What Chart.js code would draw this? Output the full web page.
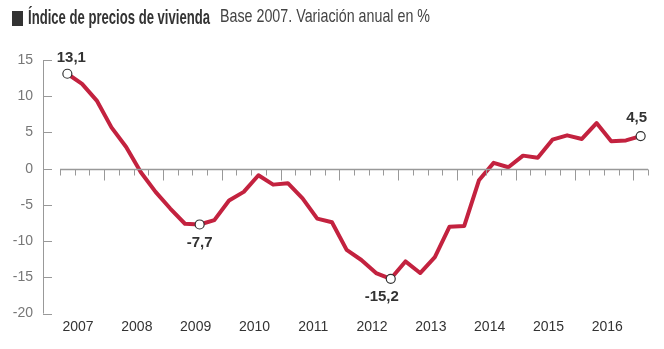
<!DOCTYPE html>
<html>
<head>
<meta charset="utf-8">
<script src="https://cdn.jsdelivr.net/npm/chart.js@4.4.1/dist/chart.umd.min.js"></script>
<style>
  body { margin: 0; background: #fff; }
  #wrap { position: relative; width: 664px; height: 349px; }
  #title { position: absolute; left: 0; top: 0; width: 664px; height: 40px; color: #333; white-space: nowrap; }
  #title .box { position: absolute; left: 12px; top: 11px; width: 11px; height: 15px; background: #333; }
  #t1, #t2 { position: absolute; top: 5px; transform-origin: left top; display: inline-block; }
  #t1 { left: 28px; font: bold 21px "Liberation Sans Narrow", "Liberation Sans", sans-serif; }
  #t2 { left: 220px; font: 19px "Liberation Sans Narrow", "Liberation Sans", sans-serif; color: #444; }
  canvas { position: absolute; left: 0; top: 0; }
</style>
</head>
<body>
<div id="wrap">
  <canvas id="ipvChart" width="664" height="349"></canvas>
  <div id="title"><span class="box"></span><span id="t1">Índice de precios de vivienda</span><span id="t2">Base 2007. Variación anual en %</span></div>
</div>
<script>
// --- Data ---
const yearTicks = ["2007", "2008", "2009", "2010", "2011", "2012", "2013", "2014", "2015", "2016"];

// quarters from 2007T2 to 2017T1
const quarters = [];
for (let y = 2007; y <= 2017; y++) {
  for (let q = 1; q <= 4; q++) quarters.push(y + "T" + q);
}
const categories = quarters.slice(1, 41);

const values = [
  13.1, 11.7, 9.4, 5.7, 3.0, -0.5, -3.2, -5.5, -7.6, -7.7,
  -7.1, -4.4, -3.2, -0.9, -2.2, -2.0, -4.1, -6.9, -7.4, -11.2,
  -12.6, -14.4, -15.2, -12.8, -14.4, -12.2, -8.0, -7.9, -1.6, 0.8,
  0.2, 1.8, 1.5, 4.0, 4.6, 4.1, 6.3, 3.8, 3.9, 4.5
];

// points that carry a value label
const labeled = [0, 9, 22, 39];

// --- Title fitting (condensed font) ---
function fitText(id, target) {
  const el = document.getElementById(id);
  const w = el.getBoundingClientRect().width;
  if (w > 0) el.style.transform = "scaleX(" + (target / w) + ")";
}
fitText("t1", 182);
fitText("t2", 210);

// --- Axis decorations and value labels ---
const axisPlugin = {
  id: "axisDeco",
  afterDatasetsDraw(chart) {
    const { ctx, chartArea, scales } = chart;
    const x = scales.x, y = scales.y;
    ctx.save();
    ctx.strokeStyle = "#999";
    ctx.lineWidth = 1;

    // vertical axis with inward ticks
    const axX = chartArea.left - 17;
    ctx.beginPath();
    ctx.moveTo(axX + 0.5, y.getPixelForValue(15));
    ctx.lineTo(axX + 0.5, y.getPixelForValue(-20));
    y.ticks.forEach((t) => {
      const py = Math.round(y.getPixelForValue(t.value)) + 0.5;
      ctx.moveTo(axX, py);
      ctx.lineTo(axX + 9, py);
    });
    ctx.stroke();

    // zero line with quarter / year ticks
    const y0 = Math.round(y.getPixelForValue(0)) + 0.5;
    const slot = x.getPixelForValue(1) - x.getPixelForValue(0);
    ctx.beginPath();
    ctx.lineWidth = 1.5;
    ctx.moveTo(chartArea.left, y0);
    ctx.lineTo(chartArea.right, y0);
    ctx.stroke();
    ctx.beginPath();
    ctx.lineWidth = 1;
    for (let k = 0; k <= categories.length; k++) {
      const px = Math.round(x.getPixelForValue(0) + (k - 0.5) * slot) + 0.5;
      const len = k % 4 === 3 ? 11 : 6;
      ctx.moveTo(px, y0);
      ctx.lineTo(px, y0 + len);
    }
    ctx.stroke();
    ctx.restore();
  },
  afterDraw(chart) {
    const { ctx } = chart;
    const meta = chart.getDatasetMeta(0);
    ctx.save();
    ctx.fillStyle = "#333";
    ctx.font = "bold 15px 'Liberation Sans', Arial, sans-serif";
    ctx.textAlign = "center";
    ctx.textBaseline = "middle";
    labeled.forEach((i) => {
      const p = meta.data[i];
      const txt = values[i].toFixed(1).replace(".", ",");
      let dx = 0, dy = 18;
      if (i === 0) { dx = 4; dy = -16; }
      if (i === 22) { dx = -9; }
      if (i === categories.length - 1) { dx = -4; dy = -18; }
      ctx.fillText(txt, p.x + dx, p.y + dy);
    });
    ctx.restore();
  }
};

// --- Chart ---
document.addEventListener("DOMContentLoaded", () => {
  const ctx = document.getElementById("ipvChart");
  new Chart(ctx, {
    type: "line",
    data: {
      labels: categories,
      datasets: [
        {
          data: values,
          borderColor: "#c3223f",
          borderWidth: 4,
          borderJoinStyle: "round",
          borderCapStyle: "round",
          tension: 0,
          pointRadius: values.map((v, i) => (labeled.includes(i) ? 4.5 : 0)),
          pointBackgroundColor: "#fff",
          pointBorderColor: "#333",
          pointBorderWidth: 1.2,
        },
      ],
    },
    options: {
      responsive: false,
      animation: false,
      devicePixelRatio: 1,
      layout: { padding: { top: 60, right: 16, left: 0, bottom: 0 } },
      plugins: { legend: { display: false }, tooltip: { enabled: false }, title: { display: false } },
      scales: {
        x: {
          type: "category",
          offset: true,
          grid: { display: false, drawTicks: false },
          border: { display: false },
          afterFit: (s) => { s.height = 35; },
          ticks: {
            autoSkip: false,
            maxRotation: 0,
            padding: 5,
            labelOffset: -4,
            color: "#333",
            font: { family: "'Liberation Sans', Arial, sans-serif", size: 14 },
            callback: (v, i) => (i % 4 === 1 ? yearTicks[(i - 1) / 4] : ""),
          },
        },
        y: {
          min: -20,
          max: 15,
          grid: { display: false, drawTicks: false },
          border: { display: false },
          afterFit: (s) => { s.width = 60; },
          ticks: {
            stepSize: 5,
            padding: 27,
            color: "#777",
            font: { family: "'Liberation Sans', Arial, sans-serif", size: 14 },
            callback: (v) => String(v),
          },
        },
      },
    },
    plugins: [axisPlugin],
  });
});
</script>
</body>
</html>
